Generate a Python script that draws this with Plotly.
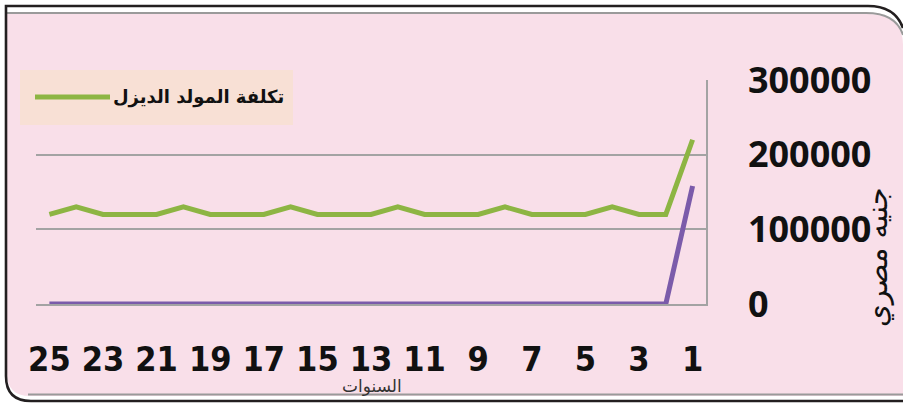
import plotly.graph_objects as go

# Years 1..25 and yearly costs (EGP)
years = list(range(1, 26))
diesel_cost = [220000, 120000, 120000, 130000, 120000, 120000, 120000, 130000,
               120000, 120000, 120000, 130000, 120000, 120000, 120000, 130000,
               120000, 120000, 120000, 130000, 120000, 120000, 120000, 130000,
               120000]
solar_cost = [158000] + [0] * 24

x_tick_vals = list(range(1, 26, 2))
y_tick_vals = [0, 100000, 200000, 300000]

legend_label = "تكلفة المولد الديزل"
y_title = "جنيه مصري"
x_title = "السنوات"

W, H = 903, 406
ML, MR, MT, MB = 36, 197, 80, 102
PW, PH = W - ML - MR, H - MT - MB


def px(x):
    return (x - ML) / PW


def py(y):
    return (H - MB - y) / PH


GREEN = "#8DB543"
PURPLE = "#7B5BAA"
PINK = "#F9DFE9"
GRID = "#A3A3A3"

fig = go.Figure()
fig.add_trace(go.Scatter(x=years, y=diesel_cost, mode="lines",
                         line=dict(color=GREEN, width=5), showlegend=False))
fig.add_trace(go.Scatter(x=years, y=solar_cost, mode="lines",
                         line=dict(color=PURPLE, width=5), showlegend=False))

shapes = []
# card background with rounded corners
shapes.append(dict(type="path", xref="paper", yref="paper", layer="below",
                   path=(f"M{px(7)},{py(14)} L{px(868)},{py(14)} "
                         f"Q{px(903)},{py(14)} {px(903)},{py(45)} "
                         f"L{px(903)},{py(396)} L{px(30)},{py(396)} "
                         f"Q{px(7)},{py(396)} {px(7)},{py(373)} Z"),
                   fillcolor=PINK, line=dict(width=0)))
# inner grey rule along the top and bottom
shapes.append(dict(type="path", xref="paper", yref="paper", layer="below",
                   path=(f"M{px(7)},{py(13)} L{px(866)},{py(13)} "
                         f"Q{px(896)},{py(13)} {px(903)},{py(35)}"),
                   line=dict(color="#9A9A9A", width=2)))
shapes.append(dict(type="line", xref="paper", yref="paper", layer="below",
                   x0=px(28), x1=px(903), y0=py(394.5), y1=py(394.5),
                   line=dict(color="#9A9A9A", width=2)))
# dark outer border
shapes.append(dict(type="path", xref="paper", yref="paper", layer="below",
                   path=(f"M{px(903)},{py(401)} L{px(31)},{py(401)} "
                         f"Q{px(6)},{py(401)} {px(6)},{py(376)} "
                         f"L{px(6)},{py(6)} L{px(868)},{py(6)} "
                         f"Q{px(895)},{py(6)} {px(903)},{py(28)}"),
                   line=dict(color="#231F20", width=2.6)))
# legend box
shapes.append(dict(type="rect", xref="paper", yref="paper", layer="above",
                   x0=px(20), x1=px(293), y0=py(125), y1=py(70),
                   fillcolor="#F8E0D5", line=dict(width=0)))
shapes.append(dict(type="line", xref="paper", yref="paper", layer="above",
                   x0=px(35), x1=px(110), y0=py(97), y1=py(97),
                   line=dict(color=GREEN, width=5)))

annotations = [
    dict(text=legend_label, xref="paper", yref="paper", x=px(111), y=py(97),
         xanchor="left", yanchor="middle", showarrow=False,
         font=dict(family="DejaVu Sans", size=18, color="#111111", weight="bold")),
    dict(text=y_title, xref="paper", yref="paper", x=px(877), y=py(257),
         xanchor="center", yanchor="middle", showarrow=False, textangle=-90,
         font=dict(family="DejaVu Sans", size=29, color="#111111")),
    dict(text=x_title, xref="paper", yref="paper", x=px(372), y=py(386),
         xanchor="center", yanchor="middle", showarrow=False,
         font=dict(family="DejaVu Sans", size=17, color="#333333")),
]

fig.update_layout(
    width=W, height=H,
    margin=dict(l=ML, r=MR, t=MT, b=MB, pad=0),
    paper_bgcolor="white",
    plot_bgcolor="rgba(0,0,0,0)",
    shapes=shapes,
    annotations=annotations,
    showlegend=False,
    xaxis=dict(range=[25.5, 0.5], tickvals=x_tick_vals,
               ticktext=[str(v) for v in x_tick_vals],
               showgrid=False, zeroline=False, ticks="",
               showline=True, linecolor=GRID, linewidth=1.5,
               ticklabelstandoff=24,
               tickfont=dict(family="Liberation Sans Narrow, DejaVu Sans Condensed, sans-serif",
                             size=34, color="#111111", weight="bold")),
    yaxis=dict(range=[0, 300000], side="right", tickvals=y_tick_vals,
               ticktext=[str(v) for v in y_tick_vals],
               showgrid=True, gridcolor=GRID, gridwidth=1.5,
               zeroline=False, ticks="",
               showline=True, linecolor=GRID, linewidth=1.5,
               ticklabelstandoff=33,
               tickfont=dict(family="Open Sans", size=36, color="#111111",
                             weight="bold")),
)

fig.write_html("out.html")
